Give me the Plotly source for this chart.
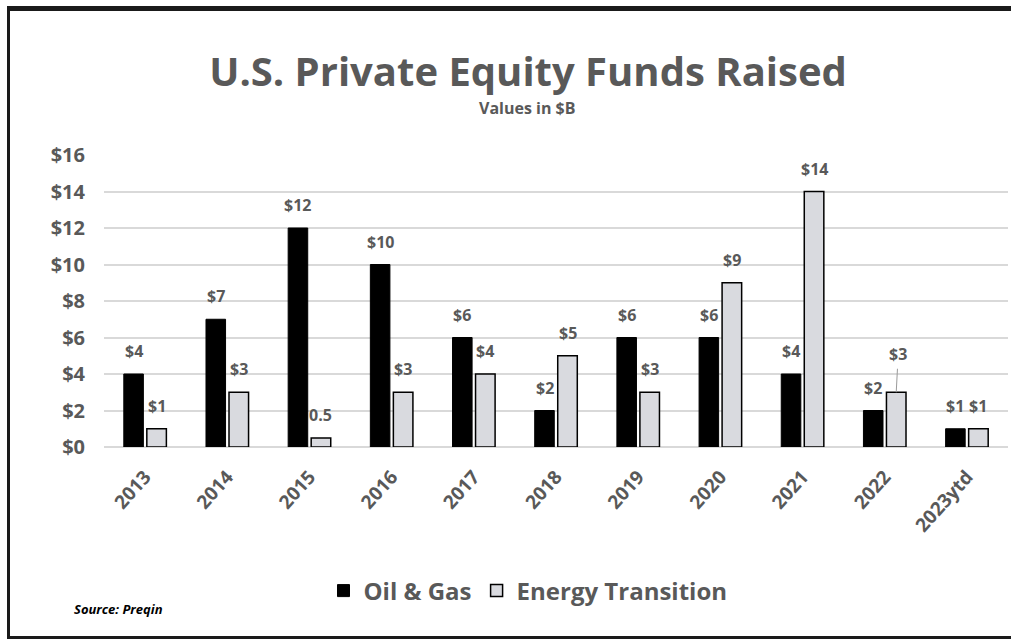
import plotly.graph_objects as go

# ---- data ----
categories = ["2013", "2014", "2015", "2016", "2017", "2018", "2019", "2020", "2021", "2022", "2023ytd"]
oil_gas = [4, 7, 12, 10, 6, 2, 6, 6, 4, 2, 1]
energy_transition = [1, 3, 0.5, 3, 4, 5, 3, 9, 14, 3, 1]
oil_labels = ["$4", "$7", "$12", "$10", "$6", "$2", "$6", "$6", "$4", "$2", "$1"]
et_labels = ["$1", "$3", "0.5", "$3", "$4", "$5", "$3", "$9", "$14", "$3", "$1"]
y_ticks = [0, 2, 4, 6, 8, 10, 12, 14, 16]
y_tick_labels = ["$0", "$2", "$4", "$6", "$8", "$10", "$12", "$14", "$16"]

W, H = 1011, 639
ML, MR, MT, MB = 104, 3, 155, 192
PW, PH = W - ML - MR, H - MT - MB

def px(x):
    return (x - ML) / PW

def py(y):
    return (H - MB - y) / PH

GRAY = "#595959"
FONT = "Open Sans"

fig = go.Figure()
fig.add_trace(go.Bar(
    name="Oil & Gas", x=categories, y=oil_gas,
    marker=dict(color="#000000", line=dict(color="#000000", width=1)),
))
fig.add_trace(go.Bar(
    name="Energy Transition", x=categories, y=energy_transition,
    marker=dict(color="#d9dadf", line=dict(color="#000000", width=1.5)),
))

label_font = dict(family=FONT, size=16, color=GRAY, weight="bold")
annotations = []
for i, c in enumerate(categories):
    # x given as category index (string years would be read as indices)
    annotations.append(dict(
        x=i, y=oil_gas[i], xref="x", yref="y", text=oil_labels[i],
        showarrow=False, xshift=-11.5, yshift=23, yanchor="middle",
        font=label_font,
    ))
    if c == "2022":
        annotations.append(dict(
            x=i, y=energy_transition[i], xref="x", yref="y", text=et_labels[i],
            showarrow=True, ax=2, ay=-38, arrowhead=0, arrowwidth=1,
            arrowcolor="#9a9a9a", xshift=11.5, standoff=0, borderpad=3,
            font=label_font,
        ))
    else:
        annotations.append(dict(
            x=i, y=energy_transition[i], xref="x", yref="y", text=et_labels[i],
            showarrow=False, xshift=11.5, yshift=23, yanchor="middle",
            font=label_font,
        ))

annotations.append(dict(
    text="Values in $B", xref="paper", yref="paper", x=px(527), y=py(108),
    showarrow=False, xanchor="center", yanchor="middle",
    font=dict(family=FONT, size=16, color=GRAY, weight="bold"),
))
annotations.append(dict(
    text="<b><i>Source: Preqin</i></b>", xref="paper", yref="paper", x=px(72), y=py(609),
    showarrow=False, xanchor="left", yanchor="middle",
    font=dict(family=FONT, size=13, color="#000000"),
))

shapes = [
    dict(type="rect", xref="paper", yref="paper", x0=px(7), x1=px(1011), y0=py(11), y1=py(6),
         fillcolor="#1a1a1a", line=dict(width=0)),
    dict(type="rect", xref="paper", yref="paper", x0=px(7), x1=px(10), y0=py(639), y1=py(6),
         fillcolor="#1a1a1a", line=dict(width=0)),
    dict(type="rect", xref="paper", yref="paper", x0=px(7), x1=px(1011), y0=py(639), y1=py(636),
         fillcolor="#1a1a1a", line=dict(width=0)),
]

fig.update_layout(
    width=W, height=H,
    margin=dict(l=ML, r=MR, t=MT, b=MB, autoexpand=False),
    paper_bgcolor="white", plot_bgcolor="white",
    barmode="group", bargap=0.44, bargroupgap=0.15,
    title=dict(
        text="U.S. Private Equity Funds Raised",
        x=528 / W, xanchor="center", xref="container",
        y=1 - 72 / H, yanchor="middle", yref="container",
        font=dict(family=FONT, size=40, color=GRAY, weight="bold"),
    ),
    xaxis=dict(
        type="category", range=[-0.5, len(categories) - 0.5],
        tickangle=-48, showgrid=False, showline=False,
        ticks="", ticklabelstandoff=14,
        tickfont=dict(family=FONT, size=19, color=GRAY, weight="bold"),
    ),
    yaxis=dict(
        range=[0, 16], tickvals=y_ticks, ticktext=y_tick_labels,
        showgrid=True, gridcolor="#d9d9d9", gridwidth=1.5,
        zeroline=True, zerolinecolor="#d9d9d9", zerolinewidth=1.5,
        showline=False, ticks="", ticklabelstandoff=18,
        tickfont=dict(family=FONT, size=20, color=GRAY, weight="bold"),
    ),
    legend=dict(
        orientation="h", xref="container", yref="container",
        x=528 / W, xanchor="center", y=1 - 591 / H, yanchor="middle",
        font=dict(family=FONT, size=24, color=GRAY, weight="bold"),
        itemwidth=30, traceorder="normal",
    ),
    annotations=annotations,
    shapes=shapes,
    showlegend=True,
)

fig.write_html(
    "out.html",
    config={"displayModeBar": False},
    post_script="document.body.style.margin='0';document.body.style.overflow='hidden';",
)
